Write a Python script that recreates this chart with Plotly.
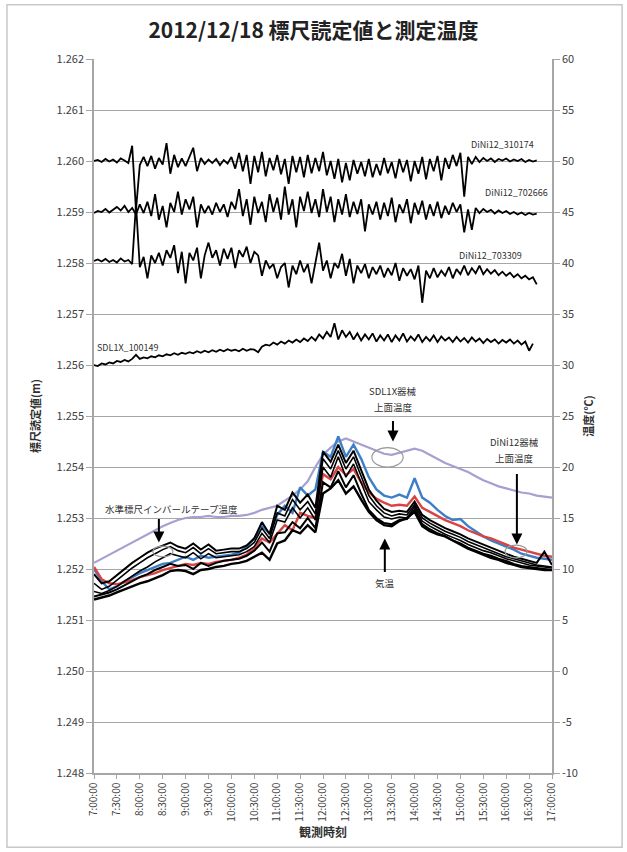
import pandas as pd
import plotly.graph_objects as go

# ---------------- data ----------------
READ_START = "2012-12-18 07:00:00"
TEMP_START = "2012-12-18 07:00:00"

DINI_310174 = [
    1.26000, 1.26002, 1.25998, 1.26004, 1.25999, 1.26003, 1.25997, 1.26005, 1.26001, 1.25996,
    1.26030, 1.25904, 1.25992, 1.26008, 1.25990, 1.26010, 1.25985, 1.26006, 1.25993, 1.26035,
    1.25975, 1.26012, 1.25988, 1.26005, 1.25990, 1.26008, 1.26026, 1.25980, 1.26006, 1.25994,
    1.26003, 1.25996, 1.26004, 1.25992, 1.26002, 1.25995, 1.26008, 1.25985, 1.26016, 1.25980,
    1.26012, 1.25955, 1.26010, 1.25978, 1.26018, 1.25970, 1.26006, 1.25982, 1.26012, 1.25974,
    1.26004, 1.25955, 1.26010, 1.25978, 1.26008, 1.25968, 1.26012, 1.25976, 1.26006, 1.25980,
    1.26018, 1.25972, 1.26000, 1.25965, 1.26004, 1.25958, 1.25996, 1.25962, 1.26002, 1.25975,
    1.25998, 1.25970, 1.26004, 1.25968, 1.25994, 1.25972, 1.26006, 1.25976, 1.25998, 1.25966,
    1.26004, 1.25978, 1.26002, 1.25960, 1.26000, 1.25975, 1.26008, 1.25964, 1.26004, 1.25980,
    1.26010, 1.25962, 1.26006, 1.25985, 1.26012, 1.25990, 1.26016, 1.25930, 1.26008, 1.25994,
    1.26008, 1.25998, 1.26006, 1.26000, 1.26005, 1.25998, 1.26004, 1.26001, 1.26005, 1.25999,
    1.26003, 1.26000, 1.26004, 1.25998, 1.26002, 1.25999, 1.26001,
]
DINI_702666 = [
    1.25898, 1.25902, 1.25900, 1.25906, 1.25899, 1.25904, 1.25910, 1.25903, 1.25912, 1.25900,
    1.25908, 1.25895, 1.25915, 1.25898, 1.25920, 1.25892, 1.25935, 1.25885, 1.25912, 1.25870,
    1.25918, 1.25900, 1.25940, 1.25895, 1.25925, 1.25905, 1.25930, 1.25870, 1.25915, 1.25898,
    1.25912, 1.25895, 1.25918, 1.25900, 1.25915, 1.25890, 1.25920, 1.25905, 1.25945, 1.25892,
    1.25925, 1.25875, 1.25930, 1.25898, 1.25920, 1.25880, 1.25935, 1.25900, 1.25928, 1.25885,
    1.25950, 1.25895, 1.25925, 1.25870, 1.25930, 1.25902, 1.25940, 1.25898, 1.25925, 1.25890,
    1.25945, 1.25900, 1.25930, 1.25880, 1.25925, 1.25895, 1.25935, 1.25890, 1.25920, 1.25896,
    1.25925, 1.25862, 1.25915, 1.25895, 1.25920, 1.25885, 1.25918, 1.25892, 1.25928, 1.25880,
    1.25915, 1.25898, 1.25925, 1.25878, 1.25918, 1.25895, 1.25922, 1.25885, 1.25915, 1.25892,
    1.25920, 1.25888, 1.25912, 1.25895, 1.25918, 1.25900, 1.25915, 1.25860, 1.25905, 1.25865,
    1.25908, 1.25898, 1.25906, 1.25900, 1.25904, 1.25897, 1.25903, 1.25898, 1.25902, 1.25896,
    1.25900, 1.25895, 1.25899, 1.25894, 1.25898, 1.25895, 1.25897,
]
DINI_703309 = [
    1.25804, 1.25807, 1.25803, 1.25808, 1.25802, 1.25806, 1.25801, 1.25809, 1.25803, 1.25806,
    1.25798, 1.25915, 1.25792, 1.25812, 1.25770, 1.25815, 1.25800, 1.25820, 1.25795, 1.25825,
    1.25810, 1.25835, 1.25780, 1.25822, 1.25760, 1.25820, 1.25805, 1.25830, 1.25770, 1.25815,
    1.25840, 1.25810, 1.25825, 1.25795, 1.25828, 1.25808, 1.25830, 1.25790, 1.25825, 1.25812,
    1.25832, 1.25800, 1.25822, 1.25815, 1.25775, 1.25805, 1.25790, 1.25798, 1.25770, 1.25792,
    1.25800, 1.25752, 1.25795, 1.25778, 1.25805, 1.25782, 1.25798, 1.25760, 1.25800, 1.25840,
    1.25785, 1.25805, 1.25770, 1.25800, 1.25790, 1.25818, 1.25775, 1.25808, 1.25760, 1.25795,
    1.25780, 1.25798, 1.25770, 1.25792, 1.25778, 1.25795, 1.25772, 1.25790, 1.25776, 1.25800,
    1.25765, 1.25790, 1.25775, 1.25788, 1.25768, 1.25795, 1.25722, 1.25785, 1.25770, 1.25790,
    1.25772, 1.25785, 1.25775, 1.25792, 1.25770, 1.25788, 1.25778, 1.25795, 1.25776, 1.25790,
    1.25780, 1.25795, 1.25778, 1.25788, 1.25779, 1.25786, 1.25776, 1.25783, 1.25775, 1.25781,
    1.25772, 1.25778, 1.25770, 1.25775, 1.25768, 1.25772, 1.25758,
]
SDL1X_100149 = [
    1.25600, 1.25598, 1.25603, 1.25601, 1.25605, 1.25603, 1.25608, 1.25606, 1.25610, 1.25607,
    1.25612, 1.25620, 1.25612, 1.25615, 1.25613, 1.25617, 1.25615, 1.25619, 1.25617, 1.25621,
    1.25619, 1.25623, 1.25620, 1.25624, 1.25622, 1.25625, 1.25623, 1.25627, 1.25624, 1.25628,
    1.25625, 1.25629, 1.25626, 1.25630, 1.25627, 1.25631, 1.25628, 1.25630, 1.25627, 1.25632,
    1.25628, 1.25631, 1.25630, 1.25625, 1.25636, 1.25640, 1.25638, 1.25644, 1.25640, 1.25646,
    1.25642, 1.25648, 1.25644, 1.25650, 1.25645, 1.25652, 1.25647, 1.25655, 1.25648, 1.25660,
    1.25652, 1.25665, 1.25655, 1.25682, 1.25650, 1.25668, 1.25655, 1.25665, 1.25650, 1.25662,
    1.25648, 1.25660, 1.25650, 1.25662, 1.25646, 1.25658, 1.25648, 1.25660, 1.25645, 1.25658,
    1.25648, 1.25662, 1.25646, 1.25656, 1.25648, 1.25660, 1.25645, 1.25655, 1.25647, 1.25658,
    1.25645, 1.25656, 1.25648, 1.25654, 1.25645, 1.25655, 1.25646, 1.25653, 1.25644, 1.25654,
    1.25646, 1.25652, 1.25643, 1.25651, 1.25645, 1.25650, 1.25642, 1.25649, 1.25644, 1.25650,
    1.25642, 1.25648, 1.25640, 1.25646, 1.25628, 1.25642,
]

T_SDL1X_TOP = [
    10.6, 11.0, 11.4, 11.8, 12.2, 12.6, 13.0, 13.4, 13.8, 14.2,
    14.5, 14.8, 15.0, 15.1, 15.1, 15.2, 15.1, 15.1, 15.2, 15.2,
    15.3, 15.5, 15.8, 16.0, 16.2, 16.7, 17.2, 17.8, 18.6, 20.0,
    21.2, 21.9, 22.5, 22.8, 22.5, 22.2, 21.9, 21.6, 21.3, 21.2,
    21.4, 21.6, 21.8, 21.6, 21.2, 20.8, 20.4, 20.1, 19.8, 19.5,
    19.1, 18.7, 18.4, 18.1, 17.9, 17.7, 17.5, 17.4, 17.2, 17.1,
    17.0,
]
T_BLUE = [
    10.0, 8.8, 8.0, 8.3, 8.8, 9.2, 9.6, 9.9, 10.2, 10.5,
    10.6, 10.9, 11.2, 10.9, 11.3, 11.1, 11.2, 11.3, 11.4, 11.6,
    12.2, 13.0, 14.2, 13.5, 15.3, 16.2, 15.5, 18.0, 17.2, 17.8,
    21.5, 21.0, 23.0, 21.0, 22.2, 20.8, 19.0, 17.8, 17.2, 17.0,
    17.3, 17.0, 18.9, 17.0, 16.5, 15.8, 15.2, 14.8, 14.9, 14.2,
    13.7, 13.2, 12.8, 12.5, 12.2, 11.9, 11.5, 11.3, 11.1, 11.0,
    10.9,
]
T_RED = [
    10.2, 9.0, 8.6, 8.5, 8.7, 8.9, 9.2, 9.4, 9.6, 9.9,
    10.1, 10.3, 10.5, 10.4, 10.6, 10.5, 10.7, 10.8, 10.9, 11.1,
    11.4, 12.1, 13.0, 12.6, 13.5, 14.3, 13.8, 15.5, 15.2, 15.0,
    19.3, 18.8, 20.0, 19.2, 19.8, 18.5, 17.5, 16.9, 16.5, 16.2,
    16.3, 16.2, 17.1, 16.0, 15.6, 15.2, 14.8, 14.5, 14.2, 13.8,
    13.5, 13.2, 13.0, 12.7, 12.4, 12.1, 11.9, 11.7, 11.5, 11.3,
    11.2,
]
T_BLACK_1 = [
    9.5, 8.6, 8.8, 9.4, 10.0, 10.6, 11.1, 11.6, 12.0, 12.3,
    12.6, 12.2, 12.0, 12.5, 11.9, 12.4, 11.8, 11.9, 12.0, 12.0,
    12.3, 13.0, 14.6, 13.4, 16.2, 15.8, 17.5, 16.5, 17.3, 16.0,
    21.5, 20.5, 22.2, 20.4, 21.6, 19.7, 17.8, 16.7, 15.9, 15.6,
    15.7, 15.6, 16.6, 15.3, 14.8, 14.4, 14.0, 13.7, 13.4, 13.0,
    12.7, 12.4, 12.1, 11.8, 11.5, 11.2, 11.0, 10.8, 10.6, 11.7,
    10.4,
]
T_BLACK_2 = [
    8.6, 8.0, 8.3, 8.9, 9.5, 10.1, 10.6, 11.1, 11.5, 11.9,
    12.2, 11.8, 11.6, 12.1, 11.5, 12.0, 11.5, 11.6, 11.7, 11.7,
    12.0, 12.6, 14.0, 13.0, 15.5, 15.2, 16.8, 15.8, 16.6, 15.4,
    20.8, 19.8, 21.6, 19.8, 21.0, 19.1, 17.2, 16.2, 15.5, 15.2,
    15.4, 15.3, 16.3, 15.0, 14.5, 14.1, 13.7, 13.4, 13.1, 12.7,
    12.4, 12.1, 11.8, 11.5, 11.2, 11.0, 10.8, 10.6, 10.4, 10.3,
    10.2,
]
T_BLACK_3 = [
    7.8, 7.6, 7.9, 8.3, 8.8, 9.3, 9.8, 10.2, 10.7, 11.1,
    11.5, 11.3, 11.1, 11.6, 11.0, 11.5, 11.1, 11.2, 11.3, 11.4,
    11.7, 12.2, 13.5, 12.6, 14.8, 14.6, 16.0, 15.0, 16.0, 14.8,
    20.0, 19.0, 21.0, 19.0, 20.3, 18.4, 16.6, 15.8, 15.1, 14.9,
    15.1, 15.0, 16.1, 14.7, 14.2, 13.8, 13.4, 13.1, 12.8, 12.4,
    12.1, 11.8, 11.6, 11.3, 11.0, 10.8, 10.6, 10.4, 10.3, 10.2,
    10.1,
]
T_BLACK_4 = [
    7.3, 7.5, 7.7, 8.0, 8.4, 8.8, 9.2, 9.5, 9.9, 10.2,
    10.5, 10.3, 10.4, 10.0, 10.6, 10.3, 10.6, 10.8, 10.9, 11.0,
    11.3, 11.8, 12.6, 11.7, 13.5, 13.6, 14.6, 14.0, 15.0, 14.0,
    18.5, 18.0, 19.6, 18.0, 19.2, 17.4, 15.8, 15.0, 14.5, 14.4,
    14.8, 14.9, 15.8, 14.4, 13.9, 13.5, 13.2, 12.8, 12.5, 12.1,
    11.8, 11.5, 11.3, 11.0, 10.8, 10.5, 10.3, 10.2, 10.1, 10.0,
    9.9,
]
T_BLACK_5 = [
    7.0, 7.2, 7.4, 7.7, 8.0, 8.3, 8.6, 8.8, 9.1, 9.4,
    9.8, 9.9, 9.8, 9.5, 9.9, 10.0, 10.2, 10.3, 10.5, 10.6,
    10.8, 11.2, 11.6, 10.9, 12.5, 12.8, 13.8, 13.5, 14.3, 13.6,
    17.4, 17.9, 18.7, 17.4, 18.1, 16.8, 15.6, 14.8, 14.3, 14.2,
    14.7, 15.0, 15.6, 14.2, 13.7, 13.4, 13.2, 12.8, 12.4, 12.0,
    11.7, 11.4, 11.1, 10.9, 10.6, 10.4, 10.2, 10.1, 10.0, 9.9,
    9.9,
]

TICK_LABELS = ["7:00:00", "7:30:00", "8:00:00", "8:30:00", "9:00:00", "9:30:00",
               "10:00:00", "10:30:00", "11:00:00", "11:30:00", "12:00:00", "12:30:00",
               "13:00:00", "13:30:00", "14:00:00", "14:30:00", "15:00:00", "15:30:00",
               "16:00:00", "16:30:00", "17:00:00"]
Y2_TICK_VALUES = [-10, -5, 0, 5, 10, 15, 20, 25, 30, 35, 40, 45, 50, 55, 60]
Y2_TICK_LABELS = ["-10", "-5", "0", "5", "10", "15", "20", "25", "30", "35",
                  "40", "45", "50", "55", "60"]

TITLE = "2012/12/18 標尺読定値と測定温度"
Y1_TITLE = "標尺読定値(m)"
Y2_TITLE = "温度(℃)"
X_TITLE = "観測時刻"

# ---------------- figure ----------------
FONT = "Noto Sans CJK JP, Noto Sans, sans-serif"
GRID = "#a6a6a6"
TXT = "#404040"


def times(start, n, step):
    return pd.date_range(start, periods=n, freq=step)


fig = go.Figure()

reading_series = [DINI_310174, DINI_702666, DINI_703309, SDL1X_100149]
for vals in reading_series:
    fig.add_trace(go.Scatter(x=times(READ_START, len(vals), "5min"), y=vals,
                             mode="lines", line=dict(color="black", width=1.8),
                             yaxis="y", showlegend=False, hoverinfo="skip"))

temp_series = [
    (T_SDL1X_TOP, "#a79fd0", 2.2),
    (T_BLUE, "#3d7fc7", 2.4),
    (T_RED, "#d94343", 2.4),
    (T_BLACK_1, "black", 2.0),
    (T_BLACK_2, "black", 1.6),
    (T_BLACK_3, "black", 1.6),
    (T_BLACK_4, "black", 2.0),
    (T_BLACK_5, "black", 2.4),
]
for vals, col, w in temp_series:
    fig.add_trace(go.Scatter(x=times(TEMP_START, len(vals), "10min"), y=vals,
                             mode="lines", line=dict(color=col, width=w),
                             yaxis="y2", showlegend=False, hoverinfo="skip"))

tick_vals = times("2012-12-18 07:00:00", len(TICK_LABELS), "30min")


def ts(hm):
    return "2012-12-18 " + hm


annotations = []
# series labels
lab_font = dict(family=FONT, size=9, color="#303030")
for txt, t, v in [("DiNi12_310174", "15:54:30", 1.26033),
                  ("DiNi12_702666", "16:14:00", 1.25939),
                  ("DiNi12_703309", "15:39:00", 1.25814),
                  ("SDL1X_100149", "07:44:30", 1.25635)]:
    annotations.append(dict(x=ts(t), y=v, xref="x", yref="y", text=txt,
                            showarrow=False, font=lab_font, borderpad=0))

note_font = dict(family=FONT, size=9.5, color="#303030")
for txt, t, v in [("SDL1X器械", "13:32:00", 27.45),
                  ("上面温度", "13:32:00", 25.85),
                  ("DiNi12器械", "16:11:30", 22.45),
                  ("上面温度", "16:11:30", 20.85),
                  ("水準標尺インバールテープ温度", "08:41:00", 15.9),
                  ("気温", "13:21:00", 8.6)]:
    annotations.append(dict(x=ts(t), y=v, xref="x", yref="y2", text=txt,
                            showarrow=False, font=note_font, borderpad=0))

# arrows (head at x,y ; tail offset in px)
for t, v, ay in [("13:31:40", 22.5, -22),
                 ("16:14:00", 12.4, -72),
                 ("08:25:00", 12.6, -25),
                 ("13:21:00", 13.0, 35)]:
    annotations.append(dict(x=ts(t), y=v, xref="x", yref="y2", text="",
                            showarrow=True, ax=0, ay=ay, arrowhead=2,
                            arrowsize=1.1, arrowwidth=2, arrowcolor="black"))

shapes = []
for t0, t1, v0, v1 in [("13:04:00", "13:45:00", 20.0, 21.9),
                       ("15:58:30", "16:27:20", 11.1, 12.35),
                       ("08:17:00", "08:43:30", 11.2, 12.25)]:
    shapes.append(dict(type="circle", xref="x", yref="y2", x0=ts(t0), x1=ts(t1),
                       y0=v0, y1=v1, line=dict(color="#999999", width=1.2)))
# outer frame
shapes.append(dict(type="rect", xref="paper", yref="paper", x0=-0.19, x1=1.153,
                   y0=-0.104, y1=1.076, line=dict(color="#c8c8c8", width=1.5),
                   layer="below"))

fig.update_layout(
    width=627, height=852,
    margin=dict(l=94, r=75, t=59, b=79),
    paper_bgcolor="white", plot_bgcolor="white",
    font=dict(family=FONT, color=TXT),
    title=dict(text="<b>" + TITLE + "</b>", x=0.5, xanchor="center",
               y=1 - 31 / 852, yanchor="middle",
               font=dict(family=FONT, size=21, color="#222222")),
    xaxis=dict(type="date", range=[ts("07:00:00"), ts("17:00:00")],
               tickvals=list(tick_vals), ticktext=TICK_LABELS, tickangle=-90,
               showgrid=False, showline=True, linecolor=GRID, linewidth=1.5,
               ticks="outside", ticklen=4, tickcolor=GRID, zeroline=False,
               tickfont=dict(family=FONT, size=10, color=TXT),
               title=dict(text="<b>" + X_TITLE + "</b>", standoff=8,
                          font=dict(family=FONT, size=12, color="#303030"))),
    yaxis=dict(range=[1.248, 1.262], dtick=0.001, tickformat=".3f",
               showgrid=True, gridcolor=GRID, gridwidth=1, zeroline=False,
               showline=True, linecolor=GRID, linewidth=1.5,
               ticks="outside", ticklen=6, tickcolor=GRID,
               tickfont=dict(family=FONT, size=11, color=TXT),
               title=dict(text="<b>" + Y1_TITLE + "</b>", standoff=14,
                          font=dict(family=FONT, size=11, color="#303030"))),
    yaxis2=dict(range=[-10, 60], tickvals=Y2_TICK_VALUES, ticktext=Y2_TICK_LABELS,
                overlaying="y", side="right",
                showgrid=False, zeroline=False, showline=True, linecolor=GRID,
                linewidth=1.5, ticks="outside", ticklen=6, tickcolor=GRID,
                tickfont=dict(family=FONT, size=11, color=TXT),
                title=dict(text="<b>" + Y2_TITLE + "</b>", standoff=8,
                           font=dict(family=FONT, size=11, color="#303030"))),
    annotations=annotations,
    shapes=shapes,
    showlegend=False,
)

fig.write_html("out.html")
